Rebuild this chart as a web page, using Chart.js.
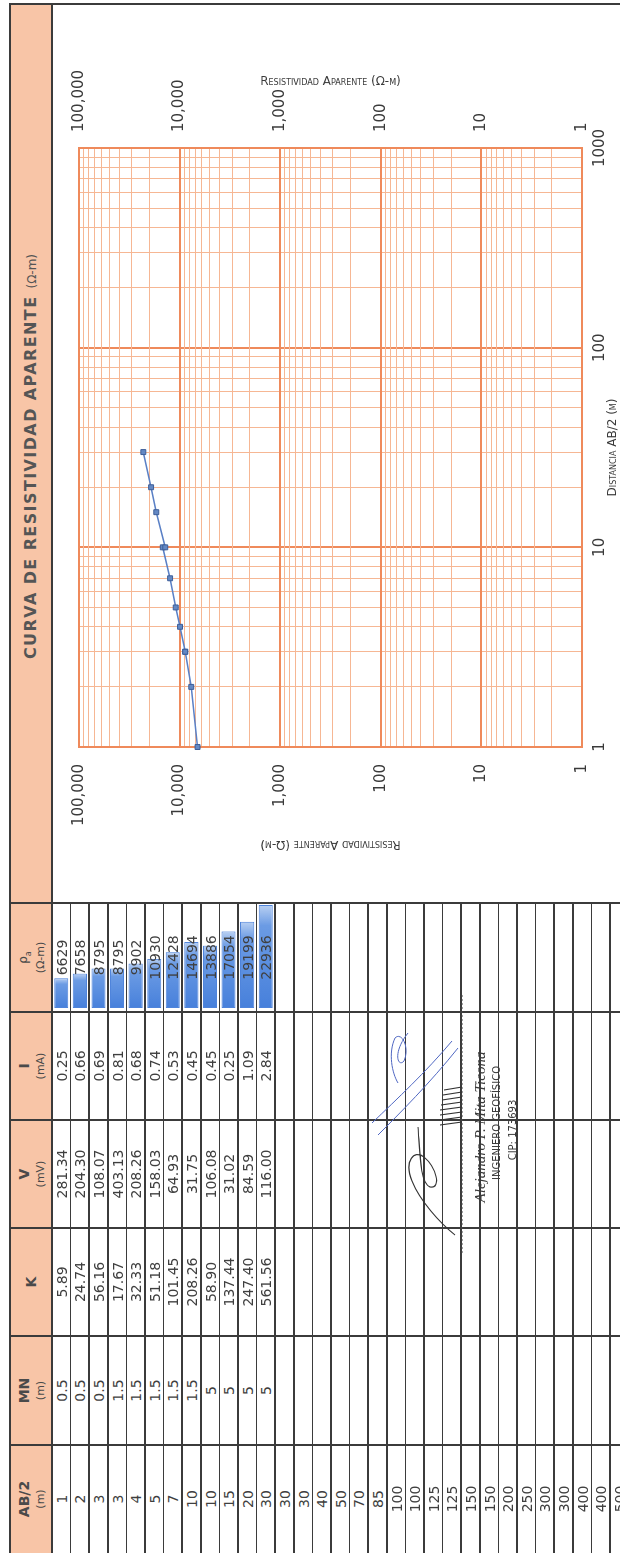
<!DOCTYPE html>
<html>
<head>
<meta charset="utf-8">
<title>Curva de resistividad aparente</title>
<script src="https://cdn.jsdelivr.net/npm/chart.js@4.4.1/dist/chart.umd.min.js"></script>
<style>
    html, body { margin: 0; padding: 0; background: #ffffff; overflow: hidden; }
    body { width: 620px; height: 1553px; position: relative; }

    /* the sheet is laid out in landscape and turned a quarter to the left */
    #sheet {
        position: absolute; left: 0; top: 0;
        width: 1553px; height: 620px;
        overflow: hidden; background: #ffffff;
        transform-origin: 0 0;
        transform: translate(0, 1553px) rotate(-90deg);
        font-family: "DejaVu Sans", sans-serif;
        color: #3d3d3d;
    }
    .rule { position: absolute; background: #3b3b3b; z-index: 2; }
    .header-band { position: absolute; left: 0; top: 10px; width: 1549px; height: 42px; background: #f8c5a7; }
    .text { position: absolute; white-space: nowrap; transform: translate(-50%, -50%); z-index: 3; line-height: 1; }
    .cell { font-size: 14px; color: #3f3f3f; }
    .head-main { font-size: 14px; font-weight: bold; color: #4a4a4a; }
    .head-unit { font-size: 11px; color: #4a4a4a; }
    .chart-title { font-size: 16px; font-weight: bold; letter-spacing: 1.4px; color: #555555; }
    .chart-title small { font-size: 12px; font-weight: normal; letter-spacing: 0; }
    .signer { font-family: "Liberation Serif", serif; font-style: italic; font-size: 15px; color: #3a3a3a; }
    .signer-line { font-size: 10px; color: #3a3a3a; }
    canvas { position: absolute; }
    #signature { position: absolute; left: 0; top: 0; z-index: 4; }
</style>
</head>
<body>
<div id="sheet">
    <div class="header-band"></div>
    <canvas id="bars-chart" width="103" height="223" style="left:545px; top:52px; width:103px; height:223px; z-index:1;"></canvas>
    <canvas id="curve-chart" width="899" height="568" style="left:650px; top:52px; width:899px; height:568px; z-index:1;"></canvas>
    <svg id="signature" width="1553" height="620" viewBox="0 0 1553 620">
        <line x1="300" y1="462" x2="560" y2="462" stroke="#444" stroke-width="1" stroke-dasharray="2 2"/>
        <path d="M 318 455 C 330 440 352 420 372 412 C 392 404 404 414 396 424 C 386 436 364 442 366 430 C 370 420 398 420 426 418"
              fill="none" stroke="#333" stroke-width="1.2"/>
        <path d="M 428 440 l 3 22 M 433 440 l 3 22 M 438 440 l 3 22 M 443 440 l 3 22 M 448 441 l 3 21 M 453 442 l 3 20 M 458 443 l 3 19 M 463 444 l 3 18"
              fill="none" stroke="#333" stroke-width="1.1"/>
        <path d="M 418 378 C 440 400 470 430 505 458 M 430 372 C 455 398 480 425 512 452 M 470 398 C 480 392 500 388 515 395 C 522 402 505 410 492 404 C 485 398 500 392 520 408"
              fill="none" stroke="#4f67c2" stroke-width="1"/>
    </svg>
</div>

<script>
// =========================================================
// DATA
// =========================================================

// sounding table (one entry per row, only the first rows were measured)
const abHalf = [1, 2, 3, 3, 4, 5, 7, 10, 10, 15, 20, 30, 30, 30, 40, 50, 70, 85, 100, 100, 125, 125, 150, 150, 200, 250, 300, 300, 400, 400, 500];
const mnSpacing = [0.5, 0.5, 0.5, 1.5, 1.5, 1.5, 1.5, 1.5, 5, 5, 5, 5];
const geometricFactor = [5.89, 24.74, 56.16, 17.67, 32.33, 51.18, 101.45, 208.26, 58.90, 137.44, 247.40, 561.56];
const voltage = [281.34, 204.30, 108.07, 403.13, 208.26, 158.03, 64.93, 31.75, 106.08, 31.02, 84.59, 116.00];
const current = [0.25, 0.66, 0.69, 0.81, 0.68, 0.74, 0.53, 0.45, 0.45, 0.25, 1.09, 2.84];
const apparentResistivity = [6629, 7658, 8795, 8795, 9902, 10930, 12428, 14694, 13886, 17054, 19199, 22936];

// axis tick labels (decades)
const distanceTickLabels = ["1", "10", "100", "1000"];
const resistivityTickLabels = ["1", "10", "100", "1,000", "10,000", "100,000"];

// =========================================================
// LAYOUT
// =========================================================

const sheet = document.getElementById("sheet");

const FRAME_RIGHT = 1549;
const FRAME_TOP = 10;
const FRAME_BOTTOM = 620;
const HEADER_BOTTOM = 52;
const ROW_HEIGHT = 18.6;
const ROW_COUNT = 31;
const COLUMN_EDGES = [0, 108, 217, 325, 433, 541, 650];

const GRID_MAJOR = "#ef8a5b";
const GRID_MINOR = "#f6b794";
const TEXT_COLOR = "#3a3a3a";

// --- Helpers --- //

function addRule(left, top, width, height) {
    const rule = document.createElement("div");
    rule.className = "rule";
    rule.style.left = left + "px";
    rule.style.top = top + "px";
    rule.style.width = width + "px";
    rule.style.height = height + "px";
    sheet.append(rule);
}

function addText(html, centerX, centerY, className) {
    const text = document.createElement("div");
    text.className = "text " + className;
    text.innerHTML = html;
    text.style.left = centerX + "px";
    text.style.top = centerY + "px";
    sheet.append(text);
}

function formatTwoDecimals(value) {
    return value.toFixed(2);
}

// --- Frame and table rules --- //

function drawFrame() {
    addRule(0, FRAME_TOP - 1, FRAME_RIGHT + 1, 2);
    addRule(FRAME_RIGHT - 1, FRAME_TOP - 1, 2, FRAME_BOTTOM - FRAME_TOP + 1);
    addRule(0, HEADER_BOTTOM - 1, FRAME_RIGHT, 2);

    for (let edgeIndex = 1; edgeIndex < COLUMN_EDGES.length; edgeIndex++) {
        addRule(COLUMN_EDGES[edgeIndex] - 1, FRAME_TOP, 2, FRAME_BOTTOM - FRAME_TOP);
    }

    const tableRight = COLUMN_EDGES[COLUMN_EDGES.length - 1];

    for (let rowIndex = 1; rowIndex < ROW_COUNT; rowIndex++) {
        addRule(0, HEADER_BOTTOM + rowIndex * ROW_HEIGHT - 0.75, tableRight, 1.5);
    }
}

// --- Table text --- //

function drawTable() {
    const columns = [
        { title: "AB/2", unit: "(m)", values: abHalf.map(String) },
        { title: "MN", unit: "(m)", values: mnSpacing.map(String) },
        { title: "K", unit: "", values: geometricFactor.map(formatTwoDecimals) },
        { title: "V", unit: "(mV)", values: voltage.map(formatTwoDecimals) },
        { title: "I", unit: "(mA)", values: current.map(formatTwoDecimals) },
        { title: "<span style='font-size:12px;font-weight:normal'>&rho;<sub style='font-size:8px'>a</sub></span>", unit: "(&Omega;-m)", values: apparentResistivity.map(String) }
    ];

    for (let columnIndex = 0; columnIndex < columns.length; columnIndex++) {
        const column = columns[columnIndex];
        const centerX = (COLUMN_EDGES[columnIndex] + COLUMN_EDGES[columnIndex + 1]) / 2;

        if (column.unit === "") {
            addText(column.title, centerX, 31, "head-main");
        } else {
            addText(column.title, centerX, 24, "head-main");
            addText(column.unit, centerX, 40, "head-unit");
        }

        for (let rowIndex = 0; rowIndex < column.values.length; rowIndex++) {
            const centerY = HEADER_BOTTOM + (rowIndex + 0.5) * ROW_HEIGHT + 0.5;
            addText(column.values[rowIndex], centerX, centerY, "cell");
        }
    }

    const chartCenter = (COLUMN_EDGES[COLUMN_EDGES.length - 1] + FRAME_RIGHT) / 2;
    addText("CURVA DE RESISTIVIDAD APARENTE <small>(&Omega;-m)</small>", chartCenter - 3, 31, "chart-title");

    addText("Alejandro P. Mita Ticona", 426, 480, "signer");
    addText("INGENIERO GEOF&Iacute;SICO", 430, 497, "signer-line");
    addText("CIP: 173693", 423, 513, "signer-line");
}

// =========================================================
// CHARTS
// =========================================================

function labelToValue(label) {
    return Number(label.replace(/,/g, ""));
}

function buildLogGridValues(decades) {
    const values = [];

    for (let decadeIndex = 0; decadeIndex < decades.length - 1; decadeIndex++) {
        for (let step = 1; step < 10; step++) {
            values.push(decades[decadeIndex] * step);
        }
    }

    values.push(decades[decades.length - 1]);

    return values;
}

function createLogAxis(labels, options) {
    const decades = labels.map(labelToValue);
    const gridValues = buildLogGridValues(decades);

    return {
        type: "logarithmic",
        position: options.position,
        min: decades[0],
        max: decades[decades.length - 1],
        afterBuildTicks: function (scale) {
            scale.ticks = gridValues.map(value => ({ value: value }));
        },
        afterFit: function (scale) {
            if (scale.isHorizontal()) {
                scale.height = options.size;
            } else {
                scale.width = options.size;
            }
        },
        grid: {
            display: options.showGrid,
            drawTicks: false,
            color: context => decades.includes(context.tick.value) ? GRID_MAJOR : GRID_MINOR,
            lineWidth: context => decades.includes(context.tick.value) ? 2 : 1
        },
        border: {
            display: true,
            color: GRID_MAJOR,
            width: 2
        },
        ticks: {
            autoSkip: false,
            maxRotation: 0,
            padding: options.tickPadding,
            color: TEXT_COLOR,
            font: { family: "DejaVu Sans", size: 15 },
            callback: function (value) {
                const decadeIndex = decades.indexOf(value);
                return decadeIndex === -1 ? "" : labels[decadeIndex];
            }
        },
        title: {
            display: true,
            text: options.title,
            color: TEXT_COLOR,
            font: { family: "DejaVu Sans", size: 12, weight: "small-caps" },
            padding: { top: options.titlePadding, bottom: 0 }
        }
    };
}

function createCurveChart() {
    const canvas = document.getElementById("curve-chart");

    const measuredDistance = abHalf.slice(0, apparentResistivity.length);
    const points = measuredDistance.map((distance, index) => ({ x: distance, y: apparentResistivity[index] }));

    return new Chart(canvas, {
        type: "line",
        data: {
            datasets: [
                {
                    data: points,
                    borderColor: "#5a80c6",
                    borderWidth: 1.5,
                    tension: 0,
                    clip: false,
                    pointStyle: "rect",
                    pointRadius: 3.5,
                    pointBackgroundColor: "#6388c4",
                    pointBorderColor: "#3d5e99",
                    pointBorderWidth: 1,
                    xAxisID: "x",
                    yAxisID: "y"
                }
            ]
        },
        options: {
            responsive: false,
            animation: false,
            events: [],
            layout: {
                padding: { top: 27, left: 0, right: 0, bottom: 0 }
            },
            plugins: {
                legend: { display: false },
                tooltip: { enabled: false }
            },
            scales: {
                x: createLogAxis(distanceTickLabels, {
                    position: "bottom", size: 38, showGrid: true, tickPadding: 9,
                    title: "Distancia AB/2 (m)", titlePadding: 0
                }),
                y: createLogAxis(resistivityTickLabels, {
                    position: "left", size: 156, showGrid: true, tickPadding: 17,
                    title: "Resistividad Aparente (Ω-m)", titlePadding: 52
                }),
                y2: createLogAxis(resistivityTickLabels, {
                    position: "right", size: 144, showGrid: false, tickPadding: 16,
                    title: "Resistividad Aparente (Ω-m)", titlePadding: 71
                })
            }
        }
    });
}

function createBarFill(context) {
    const chart = context.chart;
    const xScale = chart.scales.x;

    if (context.type !== "data" || xScale === undefined || !chart.chartArea) {
        return "#5b8fe0";
    }

    const start = xScale.getPixelForValue(0);
    const end = xScale.getPixelForValue(context.raw);
    const gradient = chart.ctx.createLinearGradient(start, 0, end, 0);

    gradient.addColorStop(0, "#4780db");
    gradient.addColorStop(0.8, "#6b9be4");
    gradient.addColorStop(1, "#b9d0f2");

    return gradient;
}

function createResistivityBars() {
    const canvas = document.getElementById("bars-chart");

    return new Chart(canvas, {
        type: "bar",
        data: {
            labels: apparentResistivity.map(String),
            datasets: [
                {
                    data: apparentResistivity,
                    backgroundColor: createBarFill,
                    borderColor: "#4f84db",
                    borderWidth: 1,
                    borderSkipped: false,
                    barPercentage: 0.76,
                    categoryPercentage: 1
                }
            ]
        },
        options: {
            indexAxis: "y",
            responsive: false,
            animation: false,
            events: [],
            layout: { padding: 0 },
            plugins: {
                legend: { display: false },
                tooltip: { enabled: false }
            },
            scales: {
                x: { display: false, min: 0, max: Math.max(...apparentResistivity) },
                y: { display: false }
            }
        }
    });
}

drawFrame();
drawTable();
createResistivityBars();
createCurveChart();
</script>
</body>
</html>
